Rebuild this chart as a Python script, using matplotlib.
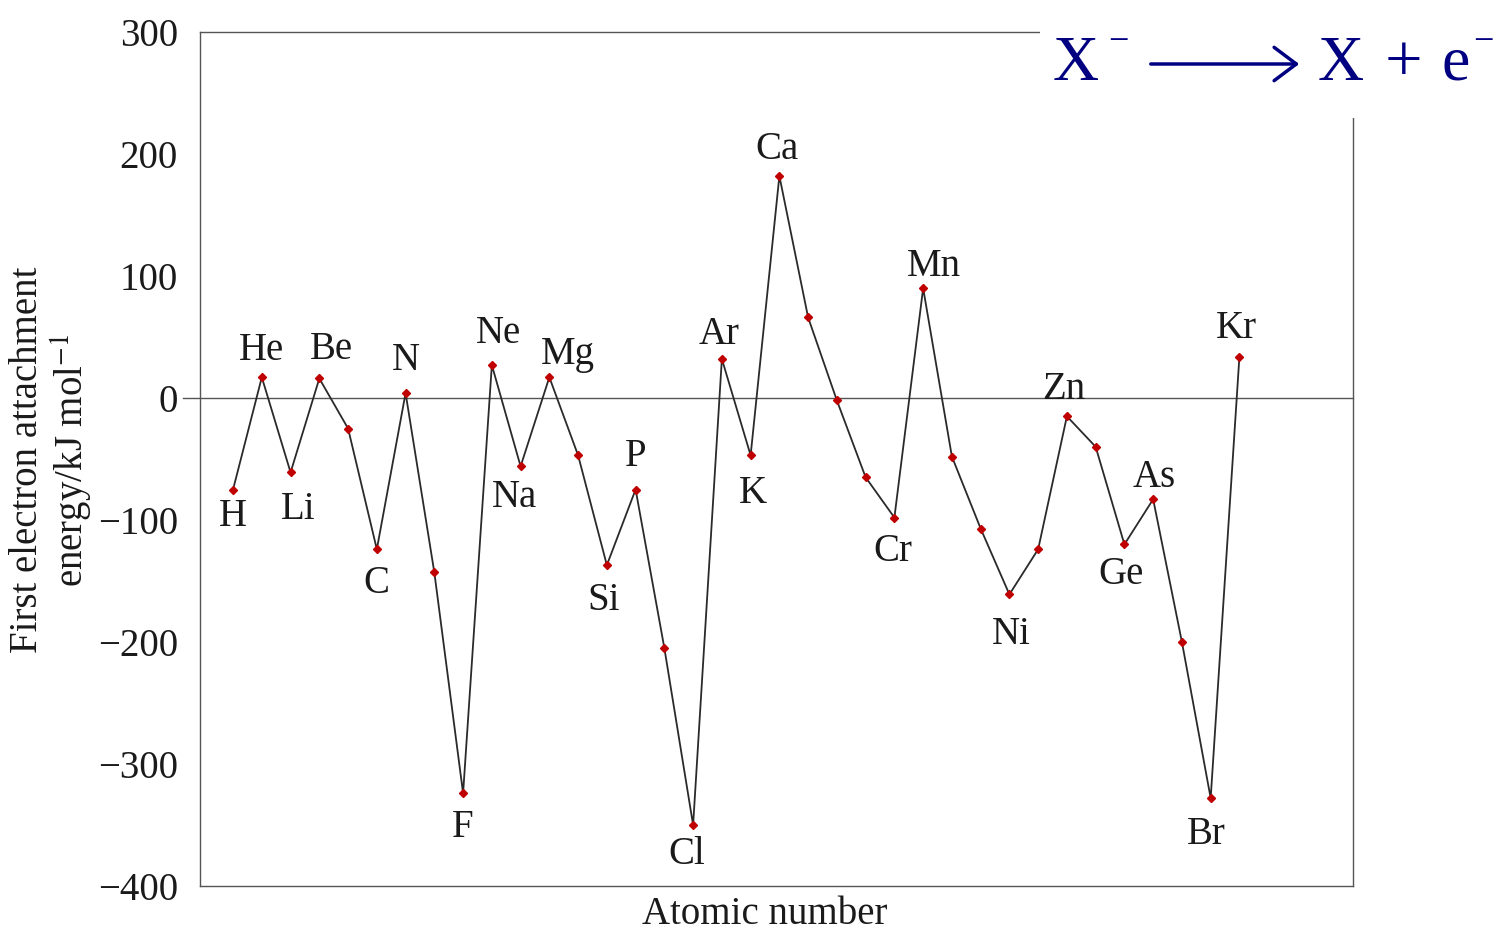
import numpy as np
import matplotlib
matplotlib.use("Agg")
import matplotlib.pyplot as plt
from matplotlib.patches import Rectangle, FancyArrowPatch

plt.rcParams['font.family'] = ['Liberation Serif', 'DejaVu Serif']
plt.rcParams['mathtext.fontset'] = 'stix'

# first electron attachment energies, H to Kr (kJ/mol)
symbols = ["H", "He", "Li", "Be", "B", "C", "N", "O", "F", "Ne",
           "Na", "Mg", "Al", "Si", "P", "S", "Cl", "Ar", "K", "Ca",
           "Sc", "Ti", "V", "Cr", "Mn", "Fe", "Co", "Ni", "Cu", "Zn",
           "Ga", "Ge", "As", "Se", "Br", "Kr"]
energy = [-75, 17, -61, 16, -25, -124, 4, -143, -324, 27,
          -56, 17, -47, -137, -75, -205, -350, 32, -47, 182,
          66, -2, -65, -98, 90, -48, -107, -161, -124, -15,
          -40, -120, -83, -200, -328, 34]
z = np.arange(1, len(energy) + 1)

# which points get a label, and where the label sits (offset in px)
label_offsets = {
    "H": (0, 27), "He": (0, -27), "Li": (8, 37), "Be": (12, -29),
    "C": (0, 34), "N": (0, -33), "F": (0, 34), "Ne": (7, -32),
    "Na": (-6, 31), "Mg": (19, -23), "Si": (-3, 35), "P": (0, -33),
    "Cl": (-6, 30), "Ar": (-3, -24), "K": (2, 38), "Ca": (-2, -26),
    "Cr": (-2, 34), "Mn": (11, -22), "Ni": (2, 40), "Zn": (-3, -27),
    "Ge": (-3, 30), "As": (1, -22), "Br": (-4, 36), "Kr": (-3, -28),
}

FS = 28
W, H = 1496, 933
fig = plt.figure(figsize=(W / 100, H / 100), dpi=100)
ax = fig.add_axes([200 / W, 1 - 886 / H, 1153 / W, 854 / H])

ax.plot(z, energy, color='#2a2a2a', lw=1.3, zorder=2)
ax.plot(z, energy, ls='none', marker='D', ms=4.5, color='#c00000', zorder=3)

# zero line, running a little past the left spine
ax.plot([-0.015, 1], [0, 0], transform=ax.get_yaxis_transform(),
        color='#555555', lw=1.0, clip_on=False, zorder=1)

for s, e, x in zip(symbols, energy, z):
    if s in label_offsets:
        dx, dy = label_offsets[s]
        ax.annotate(s, (x, e), xytext=(dx * 0.72, -dy * 0.72),
                    textcoords='offset points', ha='center', va='center',
                    fontsize=FS, color='#1a1a1a')

ax.set_xlim(-0.15, 39.95)
ax.set_ylim(-400, 300)
ax.set_yticks(np.arange(-400, 301, 100))
ax.set_yticklabels(["\u2212400", "\u2212300", "\u2212200", "\u2212100",
                    "0", "100", "200", "300"])
ax.set_xticks([])
ax.tick_params(axis='y', length=0, pad=16, labelsize=FS, labelcolor='#1a1a1a')
for sp in ax.spines.values():
    sp.set_color('#555555')
    sp.set_linewidth(1.0)

fig.text(765 / W, 1 - 915 / H, "Atomic number", ha='center', va='center',
         fontsize=FS, color='#1a1a1a')
fig.text(52 / W, 1 - 460 / H,
         "First electron attachment\nenergy/kJ mol$^{-1}$",
         rotation=90, ha='center', va='center', multialignment='center',
         fontsize=FS, color='#1a1a1a', linespacing=1.1)

# reaction in the top right corner, on a white patch over the frame
fig.patches.append(Rectangle((1040 / W, 1 - 118 / H), 456 / W, 118 / H,
                             transform=fig.transFigure, facecolor='white',
                             edgecolor='none', zorder=5))
navy = '#000080'
base = 1 - 80 / H
fig.text(1053 / W, base, "X", fontsize=46, color=navy, va='baseline', zorder=6)
fig.text(1118 / W, 1 - 42 / H, "\u2212", fontsize=26, color=navy,
         ha='center', va='center', zorder=6)
fig.text(1318 / W, base, "X", fontsize=46, color=navy, va='baseline', zorder=6)
fig.text(1403 / W, 1 - 64 / H, "+", fontsize=48, color=navy,
         ha='center', va='center', zorder=6)
fig.text(1441 / W, base, "e", fontsize=46, color=navy, va='baseline', zorder=6)
fig.text(1483 / W, 1 - 42 / H, "\u2212", fontsize=26, color=navy,
         ha='center', va='center', zorder=6)
fig.add_artist(FancyArrowPatch(
    (1148 / W, 1 - 64 / H), (1302 / W, 1 - 64 / H),
    transform=fig.transFigure, arrowstyle='->,head_length=0.4,head_width=0.3',
    mutation_scale=40, lw=2.5, color=navy, zorder=6))

fig.savefig("out.png", dpi=100)
